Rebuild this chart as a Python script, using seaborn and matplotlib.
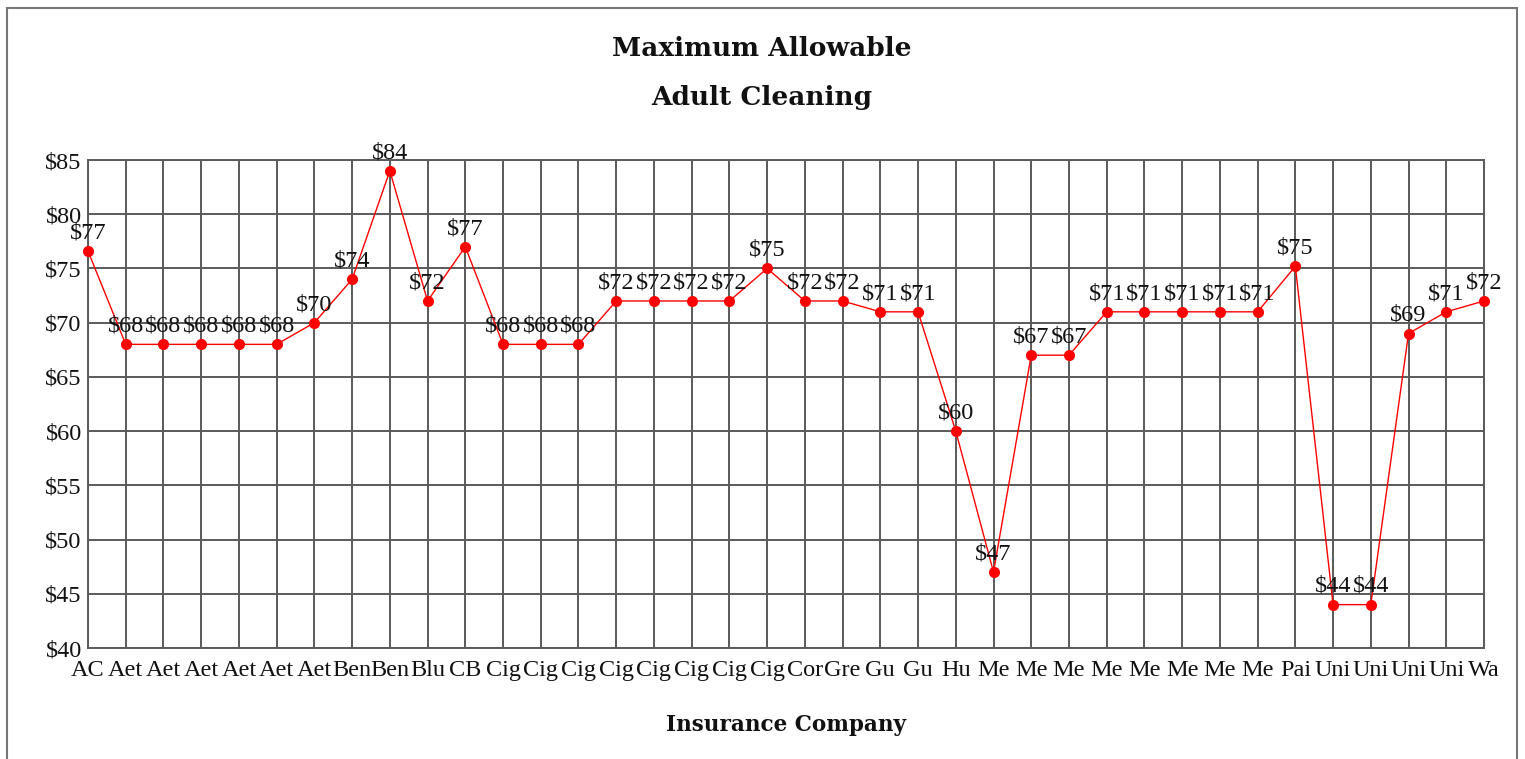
import matplotlib
matplotlib.use("Agg")
import matplotlib.pyplot as plt
import seaborn as sns
import pandas as pd
from matplotlib.patches import Rectangle
from matplotlib.ticker import FuncFormatter

# Insurance company (abbreviated) and maximum allowable fee for an adult cleaning
companies = ["AC", "Aet", "Aet", "Aet", "Aet", "Aet", "Aet", "Ben", "Ben", "Blu",
             "CB", "Cig", "Cig", "Cig", "Cig", "Cig", "Cig", "Cig", "Cig", "Cor",
             "Gre", "Gu", "Gu", "Hu", "Me", "Me", "Me", "Me", "Me", "Me",
             "Me", "Me", "Pai", "Uni", "Uni", "Uni", "Uni", "Wa"]
fees = [76.6, 68, 68, 68, 68, 68, 70, 74, 84, 72,
        77, 68, 68, 68, 72, 72, 72, 72, 75, 72,
        72, 71, 71, 60, 47, 67, 67, 71, 71, 71,
        71, 71, 75.2, 44, 44, 69, 71, 72]
y_ticks = [40, 45, 50, 55, 60, 65, 70, 75, 80, 85]

sns.set_theme(style="white")
plt.rcParams["font.family"] = ["Liberation Serif", "DejaVu Serif"]

df = pd.DataFrame({"pos": range(len(companies)), "company": companies, "fee": fees})

fig = plt.figure(figsize=(15.25, 7.59), dpi=100)
ax = fig.add_axes([88 / 1525, 1 - 648 / 759, (1484 - 88) / 1525, (648 - 160) / 759])

grid_col = "#5a5a5a"
ax.set_axisbelow(True)
ax.grid(True, color=grid_col, linewidth=1.4)
for s in ax.spines.values():
    s.set_color(grid_col)
    s.set_linewidth(1.4)

sns.lineplot(data=df, x="pos", y="fee", ax=ax, sort=False, estimator=None,
             color="red", linewidth=1.0, marker="o", markersize=8,
             markeredgewidth=0, clip_on=False, zorder=3)

for p, v in zip(df["pos"], df["fee"]):
    ax.annotate(f"${v:.0f}", (p, v), xytext=(0, 5.5), textcoords="offset points",
                ha="center", va="bottom", fontsize=17.5, color="#111111",
                annotation_clip=False, zorder=4)

ax.set_xlim(0, len(companies) - 1)
ax.set_ylim(y_ticks[0], y_ticks[-1])
ax.set_xticks(df["pos"])
ax.set_xticklabels(companies)
ax.set_yticks(y_ticks)
ax.yaxis.set_major_formatter(FuncFormatter(lambda v, _: f"${v:.0f}"))
ax.tick_params(axis="both", direction="inout", length=7, width=1.8, color="black",
               labelsize=17.5, labelcolor="#111111")
ax.tick_params(axis="x", pad=5)
ax.tick_params(axis="y", pad=1)

ax.set_xlabel("Insurance Company", fontsize=15.5, fontweight="bold", labelpad=24,
              color="#111111", family="DejaVu Serif")
ax.set_ylabel("")

for ypix, line in [(48, "Maximum Allowable"), (98, "Adult Cleaning")]:
    fig.text(762 / 1525, 1 - ypix / 759, line, ha="center", va="center",
             fontsize=19, fontweight="bold", color="#111111", family="DejaVu Serif")

fig.patches.append(Rectangle((7 / 1525, -0.05), (1517 - 7) / 1525, 1 - 8 / 759 + 0.05,
                             transform=fig.transFigure, fill=False,
                             edgecolor="#777777", linewidth=1.5))

fig.savefig("out.png", dpi=100, facecolor="white")
